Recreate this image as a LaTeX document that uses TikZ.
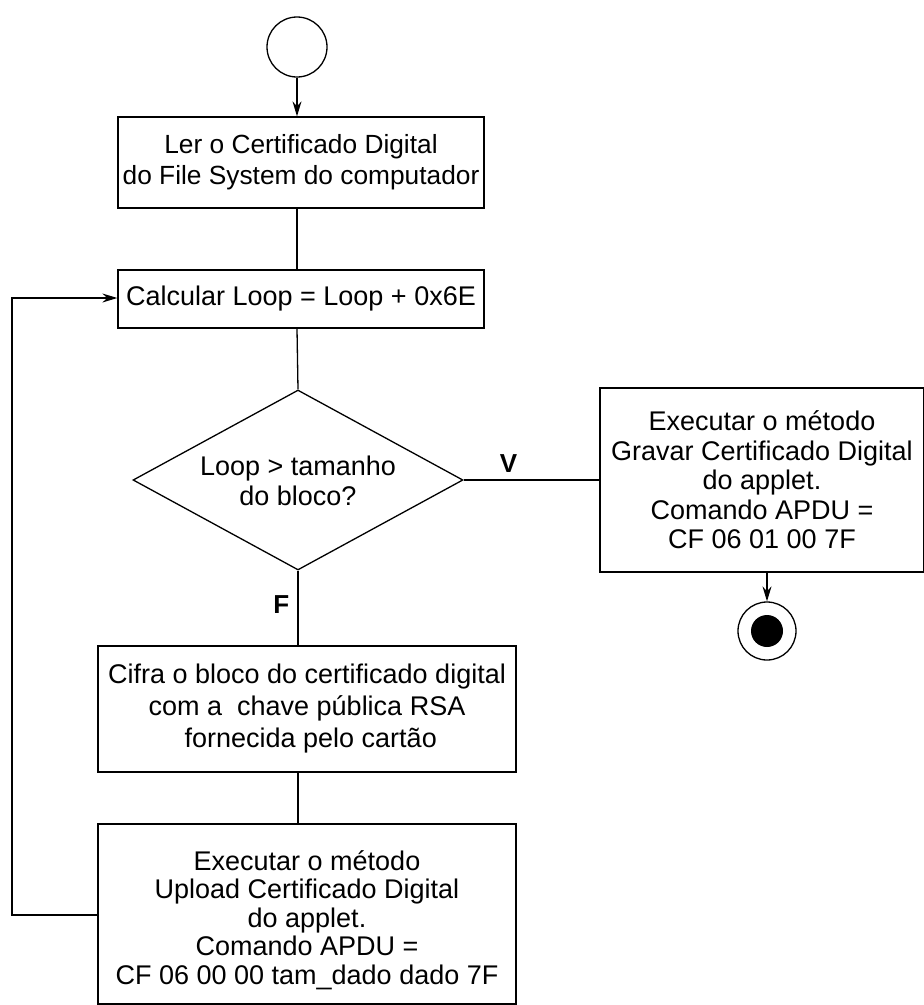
\documentclass[tikz,border=0pt]{standalone}
\usepackage{fontspec}
\setmainfont{Liberation Sans}
\usetikzlibrary{arrows.meta,shapes.geometric}
\begin{document}
\begin{tikzpicture}[x=1pt,y=-1pt,
  line width=1.3pt,
  txt/.style={font=\fontsize{27}{29.5}\selectfont},
  box/.style={draw,rectangle,align=center,inner sep=0pt,txt},
  lbl/.style={font=\bfseries\fontsize{26}{29}\selectfont,inner sep=0pt},
  arr/.style={-{Stealth[length=15pt,width=9pt,inset=5pt]}},
  ]
\useasboundingbox (0,0) rectangle (924,1005);
\node[draw,circle,minimum size=60pt,inner sep=0pt] (start) at (297,47) {};
\node[box,minimum width=366pt,minimum height=91pt,font=\fontsize{26.3}{31}\selectfont] (read) at (301,162.5) {Ler o Certificado Digital\\do File System do computador};
\node[box,minimum width=366pt,minimum height=58pt] (calc) at (301,299) {Calcular Loop = Loop + 0x6E};
\node[draw,diamond,minimum width=330pt,minimum height=180pt,inner sep=0pt,aspect=1.83] (dec) at (298,480) {};
\node[txt,align=center,font=\fontsize{27}{30}\selectfont] (dectxt) at (298,481) {Loop > tamanho\\do bloco?};
\node[box,minimum width=324pt,minimum height=184pt] (grav) at (762,480) {Executar o método\\Gravar Certificado Digital\\do applet.\\Comando APDU =\\CF 06 01 00 7F};
\node[draw,circle,minimum size=58pt,inner sep=0pt] (end) at (767,631) {};
\fill (end.center) circle (16pt);
\node[box,minimum width=418pt,minimum height=126pt,font=\fontsize{27}{32}\selectfont] (cifra) at (307,709) {Cifra o bloco do certificado digital\\com a\ \ chave pública RSA\\\ fornecida pelo cartão};
\node[draw,minimum width=418pt,minimum height=180pt,inner sep=0pt] (upl) at (307,914) {};
\node[txt,align=center,font=\fontsize{27}{28.5}\selectfont] (upltxt) at (307,920) {Executar o método\\Upload Certificado Digital\\do applet.\\Comando APDU =\\CF 06 00 00 tam\_dado dado 7F};
\coordinate (lc1) at (12,915);
\coordinate (lc2) at (12,298);
\draw[arr] (start) -- (start|-read.north);
\draw (read.south-|start) -- (calc.north-|start);
\draw (calc.south-|start) -- (dec.north);
\draw (dec.east) -- (grav.west|-dec.east) node[lbl,pos=0.33,above=7pt] {V};
\draw[arr] (grav.south-|end) -- (end.north);
\draw (dec.south) -- (cifra.north-|dec.south) node[lbl,pos=0.45,left=8pt] {F};
\draw (cifra.south-|dec.south) -- (upl.north-|dec.south);
\draw[arr] (upl.west|-lc1) -- (lc1) -- (lc2) -- (calc.west|-lc2);
\end{tikzpicture}
\end{document}
